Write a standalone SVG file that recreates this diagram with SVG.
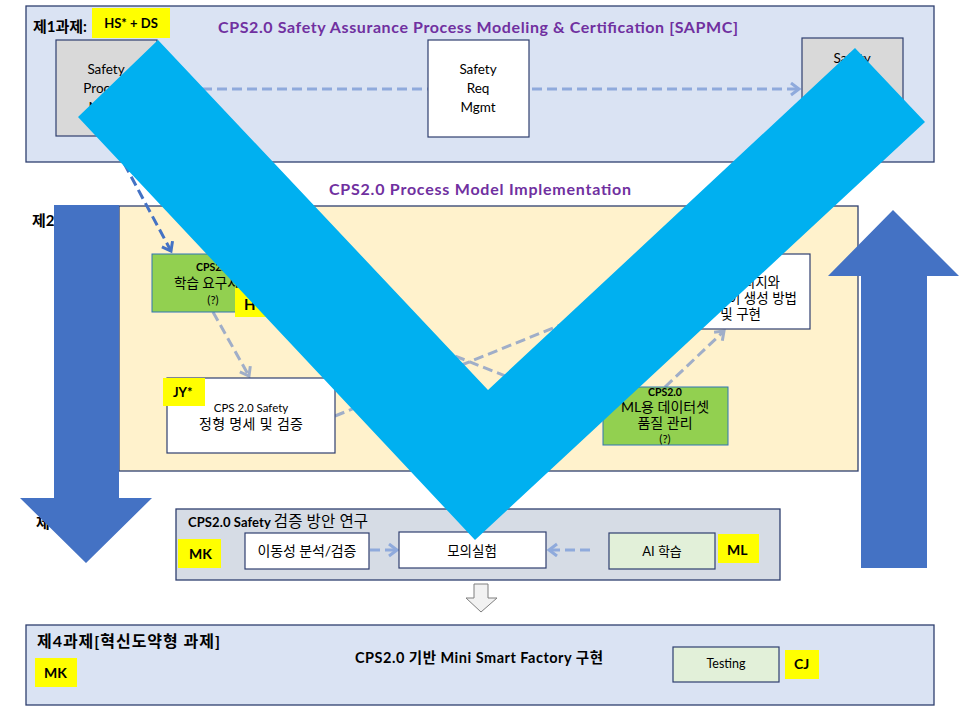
<svg xmlns="http://www.w3.org/2000/svg" width="960" height="720" viewBox="0 0 960 720">
<defs>
<style>
.t{font-family:Lato,"Noto Sans CJK KR","Open Sans",sans-serif;fill:#000}
.b{font-weight:bold}
.ttl{font-family:Lato,"Noto Sans CJK KR",sans-serif;font-weight:bold;fill:#7030A0;font-size:16px}
.pnl{fill:#DAE3F3;stroke:#2F3F6F;stroke-width:1.3}
.box{stroke:#2F3F6F;stroke-width:1.2}
.yel{fill:#FFFF00}
.dl{fill:none;stroke:#8FAADC;stroke-width:3;stroke-dasharray:10 5}
.dg{fill:none;stroke:#A0AEC8;stroke-width:3;stroke-dasharray:10 5}
.dd{fill:none;stroke:#4472C4;stroke-width:3;stroke-dasharray:10 5}
.big{fill:#4472C4}
.chk{fill:#00B0F0}
</style>
<marker id="mL" markerUnits="userSpaceOnUse" markerWidth="14" markerHeight="16" refX="10" refY="7" orient="auto"><path d="M2,1 L10,7 L2,13" fill="none" stroke="#8FAADC" stroke-width="3"/></marker>
<marker id="mG" markerUnits="userSpaceOnUse" markerWidth="14" markerHeight="16" refX="10" refY="7" orient="auto"><path d="M2,1 L10,7 L2,13" fill="none" stroke="#A0AEC8" stroke-width="3"/></marker>
<marker id="mD" markerUnits="userSpaceOnUse" markerWidth="14" markerHeight="16" refX="10" refY="7" orient="auto"><path d="M2,1 L10,7 L2,13" fill="none" stroke="#4472C4" stroke-width="3"/></marker>
</defs>
<rect width="960" height="720" fill="#fff"/>

<g id="panel1">
<rect class="pnl" x="26" y="6" width="908" height="156"/>
<text class="t b" x="33" y="32" font-size="15">제1과제:</text>
<text class="ttl" x="218" y="33" textLength="520">CPS2.0 Safety Assurance Process Modeling &amp; Certification [SAPMC]</text>
</g>
<g id="panel2">
<text class="ttl" x="329" y="195" textLength="302">CPS2.0 Process Model Implementation</text>
<text class="t b" x="32" y="226" font-size="15">제2과제</text>
<rect x="119" y="206" width="739" height="265" fill="#FFF2CC" stroke="#2F3F6F" stroke-width="1.3"/>
</g>
<g id="panel3">
<text class="t b" x="36" y="528" font-size="15">제3과제</text>
<rect x="176" y="509" width="604" height="71" fill="#D6DCE5" stroke="#2F3F6F" stroke-width="1.3"/>
<text class="t" x="188" y="527" font-size="13" textLength="180"><tspan class="b">CPS2.0 Safety </tspan><tspan font-size="15.5">검증 방안 연구</tspan></text>
</g>
<g id="panel4">
<rect class="pnl" x="26" y="625" width="908" height="80"/>
<text class="t b" x="37" y="647" font-size="16" textLength="183">제4과제[혁신도약형 과제]</text>
<text class="t b" x="355" y="663" font-size="14.5" textLength="248">CPS2.0 기반 Mini Smart Factory 구현</text>
</g>

<g id="connectors">
<line class="dl" x1="157" y1="89" x2="799" y2="89" marker-end="url(#mL)"/>
<line class="dd" x1="110" y1="137" x2="171" y2="251" marker-end="url(#mD)"/>
<line class="dg" x1="213" y1="312" x2="249" y2="376" marker-end="url(#mG)"/>
<line class="dg" x1="274" y1="284" x2="601" y2="414" marker-end="url(#mG)"/>
<line class="dg" x1="335" y1="416" x2="640" y2="293" marker-end="url(#mG)"/>
<line class="dg" x1="665" y1="387" x2="724" y2="331" marker-end="url(#mG)"/>
<line class="dl" x1="370" y1="550" x2="397" y2="550" marker-end="url(#mL)"/>
<line class="dl" x1="590" y1="550" x2="549" y2="550" marker-end="url(#mL)"/>
<polygon points="474,584 488,584 488,598 497,598 481,612 466,598 474,598" fill="#F2F2F2" stroke="#7F7F7F" stroke-width="1"/>
</g>

<g id="n-hsds"><rect class="yel" x="92" y="8" width="78" height="30"/><text class="t b" x="131" y="28" font-size="13" text-anchor="middle">HS* + DS</text></g>
<g id="n-spm"><rect class="box" x="56" y="40" width="101" height="96" fill="#D9D9D9"/>
<text class="t" font-size="13.5" text-anchor="middle"><tspan x="106" y="74">Safety</tspan><tspan x="106" y="93">Process</tspan><tspan x="106" y="112">Mgmt</tspan></text></g>
<g id="n-srm"><rect class="box" x="428" y="40" width="101" height="97" fill="#fff"/>
<text class="t" font-size="13.5" text-anchor="middle"><tspan x="478" y="74">Safety</tspan><tspan x="478" y="93">Req</tspan><tspan x="478" y="112">Mgmt</tspan></text></g>
<g id="n-safety3"><rect class="box" x="802" y="38" width="101" height="97" fill="#D9D9D9"/>
<text class="t" font-size="13.5" text-anchor="middle" x="852" y="63">Safety</text></g>

<g id="n-learn"><rect x="152" y="254" width="122" height="58" fill="#92D050" stroke="#2E75B6" stroke-width="1"/>
<text class="t b" x="213" y="271" font-size="10.5" text-anchor="middle">CPS2.0</text>
<text class="t" x="213" y="288" font-size="13.5" text-anchor="middle">학습 요구사항</text>
<text class="t" x="213" y="304" font-size="11.5" text-anchor="middle">(?)</text></g>
<g id="n-hs2"><rect class="yel" x="235" y="288" width="40" height="29"/><text class="t b" x="244" y="310" font-size="15">H</text></g>
<g id="n-formal"><rect class="box" x="167" y="378" width="168" height="75" fill="#fff"/>
<text class="t" x="251" y="412" font-size="11.5" text-anchor="middle">CPS 2.0 Safety</text>
<text class="t" x="251" y="429" font-size="14" text-anchor="middle" textLength="104">정형 명세 및 검증</text></g>
<g id="n-jy"><rect class="yel" x="163" y="378" width="42" height="28"/><text class="t b" x="173" y="397" font-size="13">JY*</text></g>
<g id="n-testgen"><rect class="box" x="642" y="254" width="168" height="75" fill="#fff"/>
<text class="t" font-size="13.5" text-anchor="end"><tspan x="780" y="287">커버리지와</tspan><tspan x="797" y="303">이 생성 방법</tspan><tspan x="761" y="319">및 구현</tspan></text></g>
<g id="n-dataset"><rect x="603" y="387" width="125" height="58" fill="#92D050" stroke="#2E75B6" stroke-width="1"/>
<text class="t b" x="665" y="396" font-size="10.5" text-anchor="middle">CPS2.0</text>
<text class="t" x="665" y="412" font-size="14" text-anchor="middle">ML용 데이터셋</text>
<text class="t" x="665" y="428" font-size="14" text-anchor="middle">품질 관리</text>
<text class="t" x="665" y="443" font-size="11.5" text-anchor="middle">(?)</text></g>

<g id="n-mk3"><rect class="yel" x="178" y="539" width="43" height="29"/><text class="t b" x="189" y="559" font-size="14">MK</text></g>
<g id="n-mobility"><rect class="box" x="245" y="533" width="124" height="36" fill="#fff"/><text class="t" x="307" y="556" font-size="14" fill="#404040" text-anchor="middle" textLength="99">이동성 분석/검증</text></g>
<g id="n-sim"><rect class="box" x="399" y="532" width="147" height="36" fill="#fff"/><text class="t" x="472" y="556" font-size="13.5" text-anchor="middle">모의실험</text></g>
<g id="n-ai"><rect class="box" x="609" y="533" width="106" height="36" fill="#E2F0D9"/><text class="t" x="662" y="556" font-size="13" text-anchor="middle">AI 학습</text></g>
<g id="n-ml"><rect class="yel" x="718" y="534" width="41" height="29"/><text class="t b" x="727" y="555" font-size="14">ML</text></g>

<g id="n-mk4"><rect class="yel" x="35" y="658" width="42" height="29"/><text class="t b" x="44" y="678" font-size="14">MK</text></g>
<g id="n-testing"><rect class="box" x="673" y="647" width="106" height="35" fill="#E2F0D9"/><text class="t" x="726" y="668" font-size="12.5" text-anchor="middle">Testing</text></g>
<g id="n-cj"><rect class="yel" x="785" y="650" width="34" height="29"/><text class="t b" x="794" y="669" font-size="14">CJ</text></g>

<g id="overlay">
<polygon class="big" points="54,205 119,205 119,498 152,498 86,563 20,498 54,498"/>
<polygon class="big" points="861,568 927,568 927,276 959,276 893,210 828,276 861,276"/>
<polygon class="chk" points="78,117 475,540 925,122 855,48 488,390 158,40"/>
</g>
</svg>
